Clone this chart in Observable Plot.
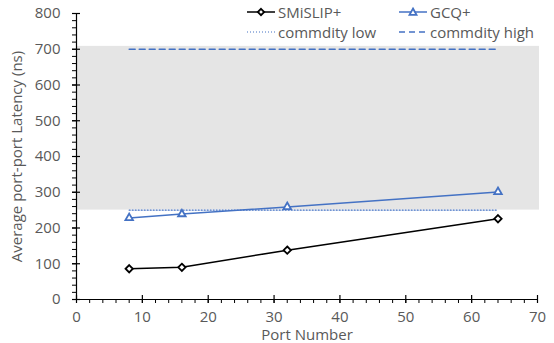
<!DOCTYPE html>
<html>
<head>
<meta charset="utf-8">
<script src="https://cdn.jsdelivr.net/npm/d3@7"></script>
<script src="https://cdn.jsdelivr.net/npm/@observablehq/plot@0.6"></script>
<style>
  html, body { margin: 0; padding: 0; background: #fff; }
  #wrap { position: relative; width: 554px; height: 343px; font-family: "Open Sans", sans-serif; }
  .leg { position: absolute; display: flex; align-items: center; font-size: 15px; color: #595959; white-space: nowrap; line-height: 1; }
  .leg svg { display: block; margin-right: 3px; }
</style>
</head>
<body>
<div id="wrap"></div>
<script>
// ---- data ----
const ports = [8, 16, 32, 64];
const smislip = [86, 90, 138, 226];
const gcq = [228, 239, 259, 301];
const commodityLow = 250;
const commodityHigh = 700;
const bandLow = 250;
const bandHigh = 708;
const commodityPorts = [8, 64];
const xTicks = [0, 10, 20, 30, 40, 50, 60, 70];
const yTicks = [0, 100, 200, 300, 400, 500, 600, 700, 800];
const xMinor = d3.range(0, 71, 2);
const yMinor = d3.range(0, 801, 20);

const seriesS = ports.map((p, i) => ({x: p, y: smislip[i]}));
const seriesG = ports.map((p, i) => ({x: p, y: gcq[i]}));
const lowLine = commodityPorts.map(p => ({x: p, y: commodityLow}));
const highLine = commodityPorts.map(p => ({x: p, y: commodityHigh}));
const band = [{x1: 0, x2: 70, y1: bandLow, y2: bandHigh}];

const blue = "#4472C4";
const gray = "#595959";
const font = 15;

const chart = Plot.plot({
  width: 554,
  height: 343,
  marginLeft: 76,
  marginRight: 17,
  marginTop: 13,
  marginBottom: 44,
  style: {fontFamily: "Open Sans, sans-serif", background: "transparent", overflow: "visible"},
  x: {domain: [0, 70], label: null},
  y: {domain: [0, 800], label: null},
  marks: [
    Plot.rect(band, {x1: "x1", x2: "x2", y1: "y1", y2: "y2", fill: "#e5e5e5", insetRight: -2}),
    Plot.line(lowLine, {x: "x", y: "y", stroke: blue, strokeWidth: 1.2, strokeDasharray: "1,2"}),
    Plot.line(highLine, {x: "x", y: "y", stroke: blue, strokeWidth: 1.5, strokeDasharray: "6,4"}),
    Plot.line(seriesG, {x: "x", y: "y", stroke: blue, strokeWidth: 1.5}),
    Plot.dot(seriesG, {x: "x", y: "y", symbol: "triangle2", r: 3.6, stroke: blue, strokeWidth: 1.8, fill: "white"}),
    Plot.line(seriesS, {x: "x", y: "y", stroke: "black", strokeWidth: 1.5}),
    Plot.dot(seriesS, {x: "x", y: "y", symbol: "diamond2", r: 3.3, stroke: "black", strokeWidth: 1.8, fill: "white"}),
    // axis lines
    Plot.ruleX([0], {stroke: "black", strokeWidth: 1.2}),
    Plot.ruleY([0], {stroke: "black", strokeWidth: 1.2}),
    // y ticks
    Plot.axisY({ticks: yMinor, tickSize: 4, tickFormat: () => "", stroke: "black", label: null}),
    Plot.axisY({ticks: yTicks, tickSize: 8, dx: 4, tickFormat: () => "", stroke: "black", strokeWidth: 1.2, label: null}),
    Plot.axisY({ticks: yTicks, tickSize: 0, tickPadding: 16, fill: gray, fontSize: font, label: null}),
    // x ticks
    Plot.axisX({ticks: xMinor, tickSize: 4, tickFormat: () => "", stroke: "black", label: null}),
    Plot.axisX({ticks: xTicks, tickSize: 8, dy: -4, tickFormat: () => "", stroke: "black", strokeWidth: 1.2, label: null}),
    Plot.axisX({ticks: xTicks, tickSize: 0, tickPadding: 11.5, fill: gray, fontSize: font, label: null}),
    // axis titles
    Plot.text(["Port Number"], {frameAnchor: "bottom", dy: 36, fill: gray, fontSize: font, lineAnchor: "middle", textAnchor: "middle"}),
    Plot.text(["Average port-port Latency (ns)"], {frameAnchor: "left", dx: -59, rotate: -90, fill: gray, fontSize: font, lineAnchor: "middle", textAnchor: "middle"})
  ]
});

const wrap = document.getElementById("wrap");
wrap.appendChild(chart);

// ---- legend ----
const legendItems = [
  {label: "SMiSLIP+", left: 247, top: 12, stroke: "black", dash: null, marker: "diamond"},
  {label: "GCQ+", left: 399, top: 12, stroke: blue, dash: null, marker: "triangle"},
  {label: "commdity low", left: 247, top: 32, stroke: blue, dash: "1,2", marker: null},
  {label: "commdity high", left: 399, top: 32, stroke: blue, dash: "6,4", marker: null}
];
for (const it of legendItems) {
  const div = document.createElement("div");
  div.className = "leg";
  div.style.left = it.left + "px";
  div.style.top = (it.top - 10) + "px";
  div.style.height = "20px";
  const w = 28;
  let m = "";
  if (it.marker === "diamond") {
    m = `<path d="M14,6.8 L17.2,10 L14,13.2 L10.8,10 Z" fill="white" stroke="black" stroke-width="1.8"/>`;
  } else if (it.marker === "triangle") {
    m = `<path d="M14,6.5 L17.5,12.8 L10.5,12.8 Z" fill="white" stroke="${blue}" stroke-width="1.8"/>`;
  }
  div.innerHTML = `<svg width="${w}" height="20"><line x1="0" x2="${w}" y1="10" y2="10" stroke="${it.stroke}" stroke-width="${it.dash === '1,2' ? 1.2 : 1.5}" ${it.dash ? `stroke-dasharray="${it.dash}"` : ""}/>${m}</svg><span>${it.label}</span>`;
  wrap.appendChild(div);
}
</script>
</body>
</html>
